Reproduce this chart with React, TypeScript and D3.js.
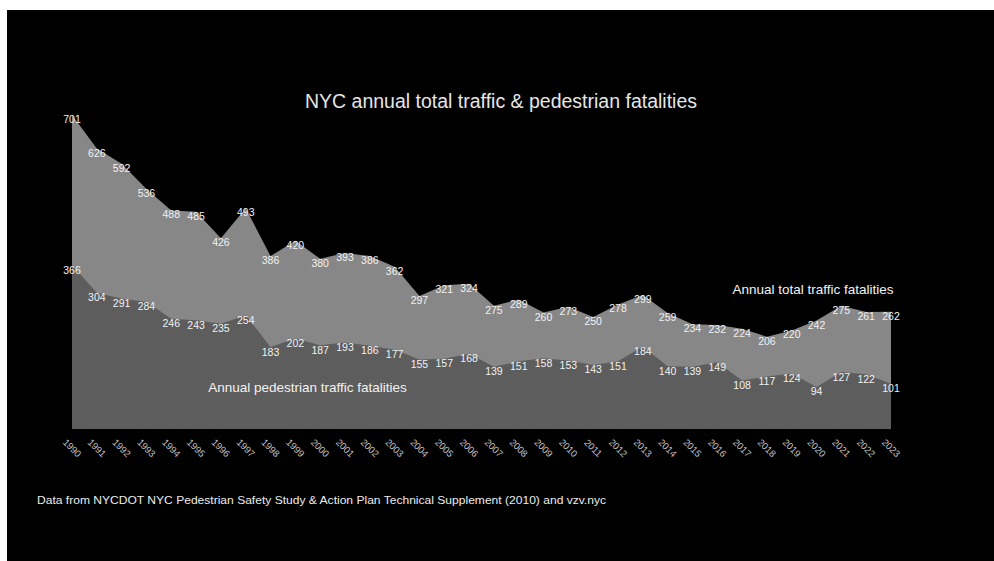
import React from "react";
import * as d3 from "d3";

const years = d3.range(1990, 2024).map(String);
const totalFatalities = [701, 626, 592, 536, 488, 485, 426, 493, 386, 420, 380, 393, 386, 362, 297, 321, 324, 275, 289, 260, 273, 250, 278, 299, 259, 234, 232, 224, 206, 220, 242, 275, 261, 262];
const pedestrianFatalities = [366, 304, 291, 284, 246, 243, 235, 254, 183, 202, 187, 193, 186, 177, 155, 157, 168, 139, 151, 158, 153, 143, 151, 184, 140, 139, 149, 108, 117, 124, 94, 127, 122, 101];

const title = "NYC annual total traffic & pedestrian fatalities";
const totalLabel = "Annual total traffic fatalities";
const pedLabel = "Annual pedestrian traffic fatalities";
const footer = "Data from NYCDOT NYC Pedestrian Safety Study & Action Plan Technical Supplement (2010) and vzv.nyc";

const W = 994;
const H = 561;
const FONT = "'Liberation Sans', Arial, Helvetica, sans-serif";

export default function App() {
  const x = d3.scalePoint<string>().domain(years).range([72, 891]);
  const y = d3.scaleLinear().domain([0, 701]).range([429, 115]);

  const areaTotal = d3
    .area<number>()
    .x((_, i) => x(years[i]) as number)
    .y0(y(0))
    .y1((d) => y(d));

  return (
    <svg
      width={W}
      height={H}
      style={{ position: "fixed", left: 0, top: 0, display: "block" }}
    >
      <rect x={0} y={0} width={W} height={H} fill="#ffffff" />
      <rect x={7} y={10} width={W - 7} height={H - 10} fill="#000000" />

      <path d={areaTotal(totalFatalities) || ""} fill="#878787" />
      <path d={areaTotal(pedestrianFatalities) || ""} fill="#5d5d5d" />

      <text
        x={501}
        y={108}
        fill="#e6e6e6"
        fontFamily={FONT}
        fontSize={19.5}
        textAnchor="middle"
      >
        {title}
      </text>

      {totalFatalities.map((v, i) => (
        <text
          key={"t" + i}
          x={x(years[i])}
          y={y(v) + 8}
          fill="#f2f2f2"
          fontFamily={FONT}
          fontSize={10.5}
          textAnchor="middle"
        >
          {v}
        </text>
      ))}
      {pedestrianFatalities.map((v, i) => (
        <text
          key={"p" + i}
          x={x(years[i])}
          y={y(v) + 8.5}
          fill="#f2f2f2"
          fontFamily={FONT}
          fontSize={10.5}
          textAnchor="middle"
        >
          {v}
        </text>
      ))}

      <text x={813} y={294} fill="#f2f2f2" fontFamily={FONT} fontSize={13.5} textAnchor="middle">
        {totalLabel}
      </text>
      <text x={307.5} y={392} fill="#f2f2f2" fontFamily={FONT} fontSize={13.5} textAnchor="middle">
        {pedLabel}
      </text>

      {years.map((yr) => (
        <text
          key={yr}
          transform={`translate(${x(yr)},448) rotate(45)`}
          fill="#c4c4c4"
          fontFamily={FONT}
          fontSize={9.5}
          textAnchor="middle"
          dy="0.35em"
        >
          {yr}
        </text>
      ))}

      <text
        x={37}
        y={504}
        fill="#ececec"
        fontFamily={FONT}
        fontSize={10.5}
        textLength={569}
        lengthAdjust="spacingAndGlyphs"
      >
        {footer}
      </text>
    </svg>
  );
}
